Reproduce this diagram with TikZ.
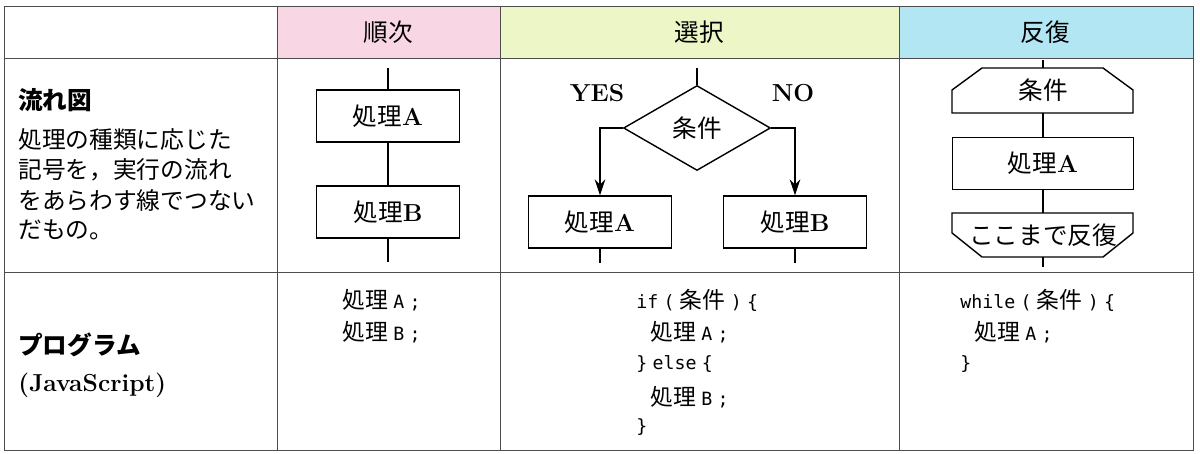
\documentclass[tikz,border=0pt]{standalone}
\usepackage{fontspec}
\newfontfamily\jp{Noto Sans CJK JP}
\setmonofont{DejaVu Sans Mono}[Scale=0.8]
\usetikzlibrary{shapes.geometric,arrows.meta}
\definecolor{junpink}{RGB}{248,214,228}
\definecolor{sengreen}{RGB}{236,246,198}
\definecolor{hancyan}{RGB}{178,230,242}
\newcommand{\shori}[1]{{\jp 処理}{\rmfamily\bfseries #1}}
\newcommand{\code}[1]{{\ttfamily #1}}
\newcommand{\gap}{\hspace{3pt}}

\begin{document}
\begin{tikzpicture}[x=0.02cm,y=-0.02cm,
	box/.style={draw,thick,minimum width=2.86cm,minimum height=1.04cm,inner sep=0pt,font=\fontsize{14}{15}\selectfont},
	label/.style={inner sep=0pt,anchor=west,font=\fontsize{13.5}{16}\selectfont\jp},
	codeline/.style={inner sep=0pt,anchor=west,font=\fontsize{13}{16}\selectfont},
	flow/.style={thick},
	grid/.style={line width=0.5pt,black!70}]
	\useasboundingbox (0,0) rectangle (1200,453);
	% header
	\fill[junpink] (277,6) rectangle (500,58);
	\fill[sengreen] (500,6) rectangle (899,58);
	\fill[hancyan] (899,6) rectangle (1193,58);
	\draw[grid] (4,6) rectangle (1193,450);
	\draw[grid] (4,58) -- (1193,58);
	\draw[grid] (4,272) -- (1193,272);
	\foreach \x in {277,500,899} \draw[grid] (\x,6) -- (\x,450);
	\node[font=\fontsize{14}{16}\selectfont\jp] (hJun) at (388,32) {順次};
	\node[font=\fontsize{14}{16}\selectfont\jp] (hSen) at (699,32) {選択};
	\node[font=\fontsize{14}{16}\selectfont\jp] (hHan) at (1045,32) {反復};
	% left column
	\node[label,font=\fontsize{14}{16}\selectfont\jp\bfseries] (tFlow) at (18,100) {流れ図};
	\node[label] (t1) at (18,140) {処理の種類に応じた};
	\node[label] (t2) at (18,170) {記号を，実行の流れ};
	\node[label] (t3) at (18,200) {をあらわす線でつない};
	\node[label] (t4) at (18,230) {だもの。};
	\node[label,font=\fontsize{14}{16}\selectfont\jp\bfseries] (tProg) at (18,345) {プログラム};
	\node[label,font=\fontsize{14}{16}\selectfont\rmfamily\bfseries] (tJs) at (18,385) {(JavaScript)};
	% sequence
	\coordinate (jTop) at (388,68);
	\coordinate (jBot) at (388,262);
	\node[box] (jA) at (388,116) {\shori{A}};
	\node[box] (jB) at (388,212) {\shori{B}};
	\draw[flow] (jTop) -- (jA) -- (jB) -- (jBot);
	% selection
	\coordinate (sTop) at (697,68);
	\node[draw,thick,diamond,inner sep=0pt,minimum width=2.94cm,minimum height=1.7cm,font=\fontsize{14}{15}\selectfont\jp] (sCond) at (697,128) {条件};
	\node[box] (sA) at (600,222) {\shori{A}};
	\node[box] (sB) at (795,222) {\shori{B}};
	\node[font=\fontsize{14}{15}\selectfont\rmfamily\bfseries] (sYes) at (597,93) {YES};
	\node[font=\fontsize{14}{15}\selectfont\rmfamily\bfseries] (sNo) at (793,93) {NO};
	\draw[flow] (sTop) -- (sCond.north);
	\draw[flow,-{Stealth[length=9pt,width=6pt]}] (sCond.west) -| (sA.north);
	\draw[flow,-{Stealth[length=9pt,width=6pt]}] (sCond.east) -| (sB.north);
	\draw[flow] (sA.south) -- ++(0,14);
	\draw[flow] (sB.south) -- ++(0,14);
	% repetition
	\coordinate (hTop) at (1043,60);
	\coordinate (hBot) at (1043,267);
	\draw[flow] (982,68) -- (1103,68) -- (1133,90) -- (1133,113) -- (952,113) -- (952,90) -- cycle;
	\node[inner sep=0pt,minimum width=3.62cm,minimum height=0.9cm,font=\fontsize{14}{15}\selectfont\jp] (hCond) at (1043,90.5) {条件};
	\node[box,minimum width=3.62cm] (hA) at (1043,163.5) {\shori{A}};
	\draw[flow] (952,213) -- (1133,213) -- (1133,233) -- (1103,257) -- (982,257) -- (952,233) -- cycle;
	\node[inner sep=0pt,minimum width=3.62cm,minimum height=0.88cm,font=\fontsize{14}{15}\selectfont\jp] (hEnd) at (1043,235) {ここまで反復};
	\draw[flow] (hTop) -- (hCond) -- (hA) -- (hEnd) -- (hBot);
	% programs
	\node[codeline] (cJ1) at (342,300) {{\jp 処理}\gap\code{A\gap;}};
	\node[codeline] (cJ2) at (342,332) {{\jp 処理}\gap\code{B\gap;}};
	\node[codeline] (cS1) at (636,300) {\code{if\gap(\gap}{\jp 条件}\code{\gap)\gap\{}};
	\node[codeline] (cS2) at (650,332) {{\jp 処理}\gap\code{A\gap;}};
	\node[codeline] (cS3) at (636,364) {\code{\}\gap else\gap\{}};
	\node[codeline] (cS4) at (650,397) {{\jp 処理}\gap\code{B\gap;}};
	\node[codeline] (cS5) at (636,427) {\code{\}}};
	\node[codeline] (cH1) at (960,300) {\code{while\gap(\gap}{\jp 条件}\code{\gap)\gap\{}};
	\node[codeline] (cH2) at (974,332) {{\jp 処理}\gap\code{A\gap;}};
	\node[codeline] (cH3) at (960,364) {\code{\}}};
\end{tikzpicture}
\end{document}
